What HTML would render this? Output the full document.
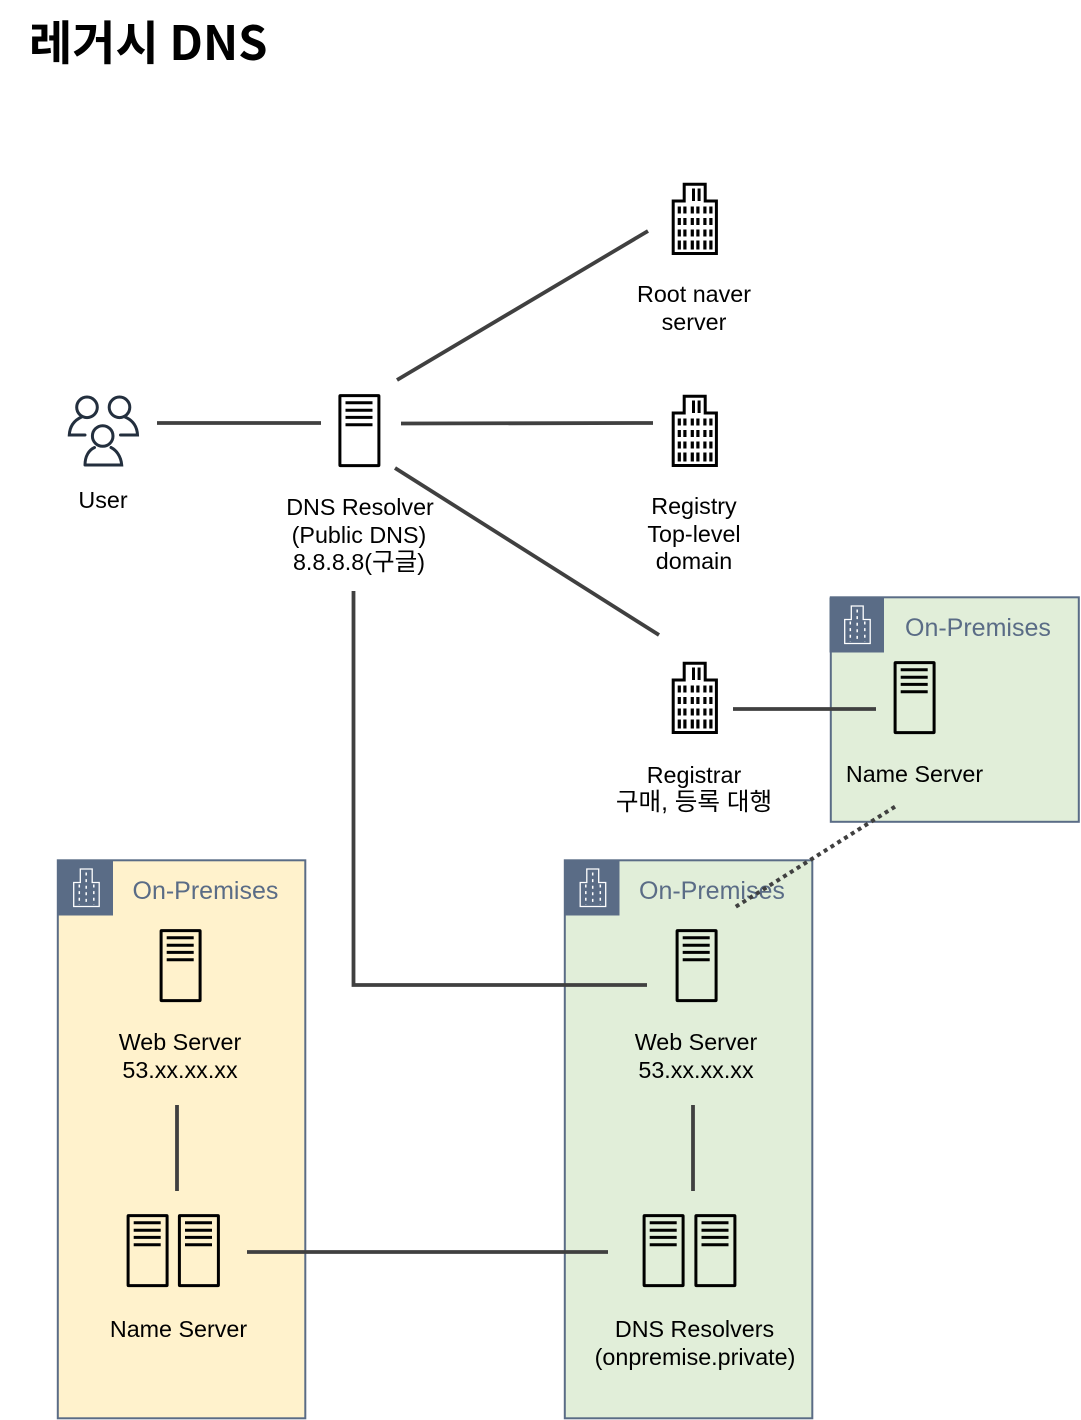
<!DOCTYPE html>
<html><head><meta charset="utf-8"><style>
html,body{margin:0;padding:0;background:#fff;width:1081px;height:1420px;overflow:hidden}
svg{display:block}
text{font-family:"Liberation Sans",Arial,"Noto Sans CJK KR",sans-serif;font-size:23.3px;fill:#000;text-anchor:middle}
.k{font-size:24.6px}
.op{font-size:25px;fill:#5A6C86;text-anchor:start}
.t{font-family:"Noto Sans CJK KR","Liberation Sans",sans-serif;font-weight:700;font-size:47px;text-anchor:start}
.l{stroke:#404040;stroke-width:3.8;fill:none}
</style></head><body>
<svg width="1081" height="1420" viewBox="0 0 1081 1420" xmlns="http://www.w3.org/2000/svg">
<defs>
<g id="srv" fill="none" stroke="#000">
<rect x="1.4" y="1.4" width="39" height="70" stroke-width="3" rx=".5"/>
<path d="M7 8.5H34M7 16H34M7 23.2H34M7 30.5H34" stroke-width="3"/>
</g>
<g id="bld">
<path d="M2.2 71V18.5H13.2V1.8H34.2V18.5H45.4V71Z" fill="none" stroke="#000" stroke-width="3"/>
<path d="M21 6h3v12.5h-3zM26.6 6h3v12.5h-3z"/>
<path d="M6.7 24h3.2v7H6.7zM12.3 24h3.2v7h-3.2zM19.7 24h3.2v7h-3.2zM25.3 24h3.2v7h-3.2zM32.3 24h3.2v7h-3.2zM38.3 24h3.2v7h-3.2z"/>
<path d="M6.7 35.5h3.2v7H6.7zM12.3 35.5h3.2v7h-3.2zM19.7 35.5h3.2v7h-3.2zM25.3 35.5h3.2v7h-3.2zM32.3 35.5h3.2v7h-3.2zM38.3 35.5h3.2v7h-3.2z"/>
<path d="M6.7 47h3.2v7H6.7zM12.3 47h3.2v7h-3.2zM19.7 47h3.2v7h-3.2zM25.3 47h3.2v7h-3.2zM32.3 47h3.2v7h-3.2zM38.3 47h3.2v7h-3.2z"/>
<path d="M6.7 58h3.2v9H6.7zM12.3 58h3.2v9h-3.2zM19.7 58h3.2v9h-3.2zM25.3 58h3.2v9h-3.2zM32.3 58h3.2v9h-3.2zM38.3 58h3.2v9h-3.2z"/>
</g>
<g id="hdr">
<rect x="0" y="0" width="54.5" height="55" fill="#5A6C86"/>
<path d="M15.2 46V22H21.8V8.5H33.7V22H40.7V46Z" fill="none" stroke="#fff" stroke-width="1.3"/>
<path d="M20.8 24V44M27.7 12V44M35.3 24V44" fill="none" stroke="#fff" stroke-width="1.5" stroke-dasharray="3 3.6"/>
</g>
</defs>

<text class="t" x="29" y="60">레거시 DNS</text>

<rect x="830.8" y="597.3" width="248" height="224.5" fill="#E1EED9" stroke="#5A6C86" stroke-width="2"/>
<rect x="57.8" y="860.3" width="247.5" height="558" fill="#FFF2CC" stroke="#5A6C86" stroke-width="2"/>
<rect x="564.8" y="860.3" width="247.5" height="558" fill="#E1EED9" stroke="#5A6C86" stroke-width="2"/>
<use href="#hdr" x="829.5" y="597.5"/>
<use href="#hdr" x="58.5" y="860.5"/>
<use href="#hdr" x="565" y="860.5"/>
<text class="op" x="905" y="636">On-Premises</text>
<text class="op" x="132.5" y="899">On-Premises</text>
<text class="op" x="639" y="899">On-Premises</text>

<g fill="none" stroke="#232F3E" stroke-width="3" stroke-linecap="round">
<circle cx="87" cy="407.3" r="10.3"/>
<circle cx="119.5" cy="407.3" r="10.3"/>
<circle cx="102.7" cy="436" r="10.3"/>
<path d="M85 435H69.3C69.8 425 75 420 81.5 417"/>
<path d="M120.5 435H137.5C137 425 132 420 125 417"/>
<path d="M85 465H121.7C121 456 116 450 111 447.5M94.5 447.5C89 450 85 456 85 465"/>
</g>

<use href="#srv" x="338.5" y="394.2"/>
<use href="#srv" x="893.7" y="661.2"/>
<use href="#srv" x="159.7" y="929.2"/>
<use href="#srv" x="675.7" y="929.2"/>
<use href="#srv" x="126.7" y="1214.2"/>
<use href="#srv" x="178" y="1214.2"/>
<use href="#srv" x="642.7" y="1214.2"/>
<use href="#srv" x="694.5" y="1214.2"/>

<use href="#bld" x="671" y="182.5"/>
<use href="#bld" x="671" y="394.5"/>
<use href="#bld" x="671" y="661.5"/>

<text x="103" y="508">User</text>
<text x="360" y="515">DNS Resolver</text>
<text x="359" y="543">(Public DNS)</text>
<text x="359" y="570">8.8.8.8(<tspan class="k">구글</tspan>)</text>
<text x="694" y="302">Root naver</text>
<text x="694" y="330">server</text>
<text x="694" y="514">Registry</text>
<text x="694" y="542">Top-level</text>
<text x="694" y="569">domain</text>
<text x="694" y="783">Registrar</text>
<text class="k" x="694" y="810">구매, 등록 대행</text>
<text x="914.5" y="782">Name Server</text>
<text x="180" y="1050">Web Server</text>
<text x="180" y="1078">53.xx.xx.xx</text>
<text x="696" y="1050">Web Server</text>
<text x="696" y="1078">53.xx.xx.xx</text>
<text x="178.5" y="1337">Name Server</text>
<text x="694.5" y="1337">DNS Resolvers</text>
<text x="695" y="1365">(onpremise.private)</text>

<path class="l" d="M157 423H321"/>
<path class="l" d="M401 423.5L653 423"/>
<path class="l" d="M397 380L648 231"/>
<path class="l" d="M395 468L659 635"/>
<path class="l" d="M353.5 591V985H647"/>
<path class="l" d="M733 709H876"/>
<path class="l" d="M177 1105V1191"/>
<path class="l" d="M693 1105V1191"/>
<path class="l" d="M247 1252H608"/>
<path d="M895 806.7L733 908.5" fill="none" stroke="#404040" stroke-width="4" stroke-dasharray="4 4"/>
</svg>
</body></html>
